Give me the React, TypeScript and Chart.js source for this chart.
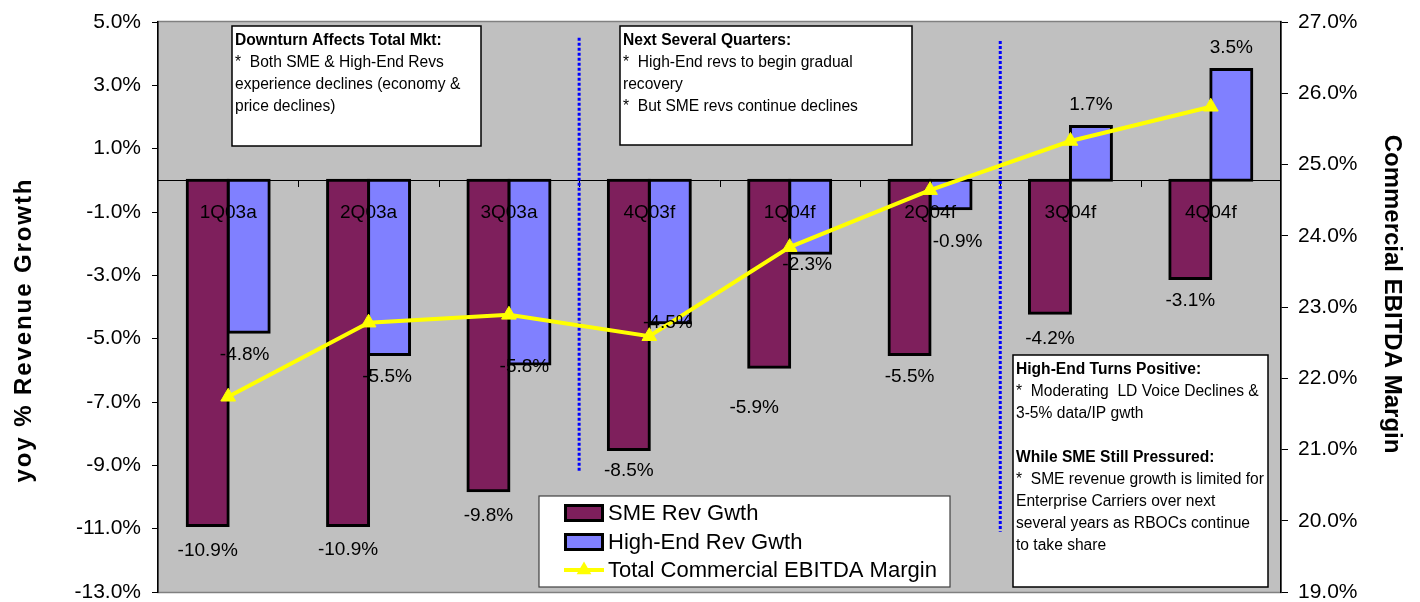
import React, { useEffect, useRef } from 'react';
import { Chart, registerables } from 'chart.js';

Chart.register(...registerables);

const FONT = '"Liberation Sans", Arial, sans-serif';

const categories = ['1Q03a', '2Q03a', '3Q03a', '4Q03f', '1Q04f', '2Q04f', '3Q04f', '4Q04f'];
const smeRevGrowth = [-10.9, -10.9, -9.8, -8.5, -5.9, -5.5, -4.2, -3.1];
const highEndRevGrowth = [-4.8, -5.5, -5.8, -4.5, -2.3, -0.9, 1.7, 3.5];
const ebitdaMargin = [21.74, 22.78, 22.89, 22.59, 23.84, 24.64, 25.33, 25.81];

const leftTickValues = [-13, -11, -9, -7, -5, -3, -1, 1, 3, 5];
const rightTickValues = [19, 20, 21, 22, 23, 24, 25, 26, 27];

const seriesNames = ['SME Rev Gwth', 'High-End Rev Gwth', 'Total Commercial EBITDA Margin'];
const leftTitle = 'yoy % Revenue Growth';
const rightTitle = 'Commercial EBITDA Margin';

// manual label nudges (px) as placed in the original
const smeLabelNudge = [[0, 2], [0, 1], [0, 2], [0, -2], [-15, 18], [0, -1], [0, 2], [0, -1]];
const heLabelNudge = [[-4, 0], [-2, 0], [-5, -19], [-2, -22], [-3, -10], [7, 11], [0, 0], [0, 0]];

// dotted dividers after category index, spanning left-axis values
const dividers = [
  { afterIndex: 2, top: 4.5, bottom: -9.2 },
  { afterIndex: 5, top: 4.4, bottom: -11.1 },
];

type NoteLine = { t: string; b?: boolean };
const noteDownturn: NoteLine[] = [
  { t: 'Downturn Affects Total Mkt:', b: true },
  { t: '*  Both SME & High-End Revs' },
  { t: 'experience declines (economy &' },
  { t: 'price declines)' },
];
const noteNext: NoteLine[] = [
  { t: 'Next Several Quarters:', b: true },
  { t: '*  High-End revs to begin gradual' },
  { t: 'recovery' },
  { t: '*  But SME revs continue declines' },
];
const noteHighEnd: NoteLine[] = [
  { t: 'High-End Turns Positive:', b: true },
  { t: '*  Moderating  LD Voice Declines &' },
  { t: '3-5% data/IP gwth' },
  { t: '' },
  { t: 'While SME Still Pressured:', b: true },
  { t: '*  SME revenue growth is limited for' },
  { t: 'Enterprise Carriers over next' },
  { t: 'several years as RBOCs continue' },
  { t: 'to take share' },
];

const noteBoxes = [
  { x: 232, y: 26, w: 249, h: 120, lines: noteDownturn },
  { x: 620, y: 26, w: 292, h: 119, lines: noteNext },
  { x: 1013, y: 355, w: 255, h: 232, lines: noteHighEnd },
];

const SME_COLOR = '#7E1F5C';
const HE_COLOR = '#8080FF';
const LINE_COLOR = '#FFFF00';

function drawSpacedText(ctx: CanvasRenderingContext2D, text: string, target: number) {
  const c: any = ctx;
  c.letterSpacing = '0px';
  const w = ctx.measureText(text).width;
  const sp = Math.max(0, (target - w) / (text.length - 1));
  c.letterSpacing = sp + 'px';
  ctx.fillText(text, sp / 2, 0);
  c.letterSpacing = '0px';
}

const decor = {
  id: 'decor',
  beforeDraw(chart: any) {
    const { ctx, chartArea: a } = chart;
    ctx.save();
    ctx.fillStyle = '#C0C0C0';
    ctx.fillRect(a.left, a.top, a.right - a.left, a.bottom - a.top);
    ctx.strokeStyle = '#808080';
    ctx.lineWidth = 1.5;
    ctx.strokeRect(a.left, a.top - 0.5, a.right - a.left, a.bottom - a.top + 1);
    ctx.restore();
  },
  beforeDatasetsDraw(chart: any) {
    const { ctx, chartArea: a, scales } = chart;
    const x = scales.x;
    const y = scales.y;
    const y0 = y.getPixelForValue(0);
    const half = (x.getPixelForValue(1) - x.getPixelForValue(0)) / 2;
    ctx.save();
    ctx.strokeStyle = '#000';
    ctx.lineWidth = 1;
    ctx.beginPath();
    ctx.moveTo(a.left, Math.round(y0) + 0.5);
    ctx.lineTo(a.right, Math.round(y0) + 0.5);
    for (let i = 1; i < categories.length; i++) {
      const bx = Math.round(x.getPixelForValue(i) - half) + 0.5;
      ctx.moveTo(bx, Math.round(y0));
      ctx.lineTo(bx, Math.round(y0) + 7);
    }
    ctx.stroke();
    ctx.strokeStyle = '#0000FF';
    ctx.lineWidth = 3;
    ctx.setLineDash([3, 2]);
    for (const d of dividers) {
      const bx = x.getPixelForValue(d.afterIndex) + half;
      ctx.beginPath();
      ctx.moveTo(bx, y.getPixelForValue(d.top));
      ctx.lineTo(bx, y.getPixelForValue(d.bottom));
      ctx.stroke();
    }
    ctx.restore();
  },
  afterDatasetsDraw(chart: any) {
    const { ctx, scales } = chart;
    const x = scales.x;
    const y = scales.y;
    const y0 = y.getPixelForValue(0);
    ctx.save();
    ctx.fillStyle = '#000';
    ctx.textAlign = 'center';
    ctx.textBaseline = 'middle';
    ctx.font = `19px ${FONT}`;
    // category labels
    categories.forEach((c, i) => {
      ctx.fillText(c, x.getPixelForValue(i), y0 + 32);
    });
    // data labels
    const metaS = chart.getDatasetMeta(0);
    const metaH = chart.getDatasetMeta(1);
    const fmt = (v: number) => v.toFixed(1) + '%';
    metaS.data.forEach((el: any, i: number) => {
      const v = smeRevGrowth[i];
      const dy = v < 0 ? 23 : -22;
      ctx.fillText(fmt(v), el.x + smeLabelNudge[i][0], el.y + dy + smeLabelNudge[i][1]);
    });
    metaH.data.forEach((el: any, i: number) => {
      const v = highEndRevGrowth[i];
      const dy = v < 0 ? 22 : -22;
      ctx.fillText(fmt(v), el.x + heLabelNudge[i][0], el.y + dy + heLabelNudge[i][1]);
    });
    // note boxes
    ctx.textAlign = 'left';
    for (const nb of noteBoxes) {
      ctx.fillStyle = '#fff';
      ctx.fillRect(nb.x, nb.y, nb.w, nb.h);
      ctx.strokeStyle = '#000';
      ctx.lineWidth = 1.5;
      ctx.strokeRect(nb.x, nb.y, nb.w, nb.h);
      ctx.fillStyle = '#000';
      nb.lines.forEach((ln, i) => {
        ctx.font = `${ln.b ? 'bold ' : ''}15.6px ${FONT}`;
        ctx.fillText(ln.t, nb.x + 3, nb.y + 14.5 + i * 22);
      });
    }
    // legend
    const lg = { x: 539, y: 496, w: 411, h: 91 };
    ctx.fillStyle = '#fff';
    ctx.fillRect(lg.x, lg.y, lg.w, lg.h);
    ctx.strokeStyle = '#404040';
    ctx.lineWidth = 1.2;
    ctx.strokeRect(lg.x, lg.y, lg.w, lg.h);
    const rows = [513, 542, 570];
    const sw = 564;
    const fills = [SME_COLOR, HE_COLOR];
    for (let r = 0; r < 2; r++) {
      ctx.fillStyle = '#000';
      ctx.fillRect(sw, rows[r] - 9, 40, 18);
      ctx.fillStyle = fills[r];
      ctx.fillRect(sw + 3, rows[r] - 6, 34, 12);
    }
    ctx.strokeStyle = LINE_COLOR;
    ctx.lineWidth = 4;
    ctx.beginPath();
    ctx.moveTo(sw, rows[2]);
    ctx.lineTo(sw + 40, rows[2]);
    ctx.stroke();
    ctx.fillStyle = LINE_COLOR;
    const tr = 8.5;
    ctx.beginPath();
    ctx.moveTo(sw + 20, rows[2] - tr);
    ctx.lineTo(sw + 20 + tr * 0.866, rows[2] + tr / 2);
    ctx.lineTo(sw + 20 - tr * 0.866, rows[2] + tr / 2);
    ctx.closePath();
    ctx.fill();
    ctx.fillStyle = '#000';
    ctx.font = `22px ${FONT}`;
    seriesNames.forEach((n, i) => ctx.fillText(n, 608, rows[i] + 1));
    // axis titles
    ctx.font = `bold 24px ${FONT}`;
    ctx.textAlign = 'center';
    ctx.save();
    ctx.translate(24, 331);
    ctx.rotate(-Math.PI / 2);
    drawSpacedText(ctx, leftTitle, 303);
    ctx.restore();
    ctx.save();
    ctx.translate(1392, 294);
    ctx.rotate(Math.PI / 2);
    drawSpacedText(ctx, rightTitle, 318);
    ctx.restore();
    ctx.restore();
  },
};

export default function App() {
  const ref = useRef<HTMLCanvasElement>(null);
  useEffect(() => {
    const canvas = ref.current;
    if (!canvas) return;
    const chart = new Chart(canvas, {
      type: 'bar',
      data: {
        labels: categories,
        datasets: [
          {
            type: 'bar',
            label: seriesNames[0],
            data: smeRevGrowth,
            backgroundColor: SME_COLOR,
            borderColor: '#000',
            borderWidth: 3,
            borderSkipped: false,
            inflateAmount: 1.5,
            yAxisID: 'y',
            order: 1,
            barPercentage: 1,
            categoryPercentage: 0.584,
          },
          {
            type: 'bar',
            label: seriesNames[1],
            data: highEndRevGrowth,
            backgroundColor: HE_COLOR,
            borderColor: '#000',
            borderWidth: 3,
            borderSkipped: false,
            inflateAmount: 1.5,
            yAxisID: 'y',
            order: 2,
            barPercentage: 1,
            categoryPercentage: 0.584,
          },
          {
            type: 'line',
            label: seriesNames[2],
            data: ebitdaMargin,
            borderColor: LINE_COLOR,
            backgroundColor: LINE_COLOR,
            borderWidth: 4,
            pointStyle: 'triangle',
            pointRadius: 8.5,
            pointBackgroundColor: LINE_COLOR,
            pointBorderColor: LINE_COLOR,
            pointBorderWidth: 1,
            tension: 0,
            fill: false,
            yAxisID: 'y1',
            order: 0,
          } as any,
        ],
      },
      options: {
        responsive: false,
        animation: false,
        layout: { padding: { left: 0, right: 0, top: 22, bottom: 10 } },
        plugins: {
          legend: { display: false },
          tooltip: { enabled: false },
          title: { display: false },
        },
        scales: {
          x: { type: 'category', display: false, offset: true },
          y: {
            type: 'linear',
            position: 'left',
            min: -13,
            max: 5,
            afterBuildTicks: (s: any) => {
              s.ticks = leftTickValues.map((v) => ({ value: v }));
            },
            afterFit: (s: any) => {
              s.width = 158;
              s.paddingTop = 0;
              s.paddingBottom = 0;
            },
            ticks: {
              callback: (v: any) => Number(v).toFixed(1) + '%',
              font: { family: FONT, size: 21, lineHeight: 1 },
              color: '#000',
              padding: 11,
            },
            grid: { drawOnChartArea: false, tickLength: 6, color: '#000', tickColor: '#000' },
            border: { display: true, color: '#000', width: 1.5 },
          },
          y1: {
            type: 'linear',
            position: 'right',
            min: 19,
            max: 27,
            afterBuildTicks: (s: any) => {
              s.ticks = rightTickValues.map((v) => ({ value: v }));
            },
            afterFit: (s: any) => {
              s.width = 139;
              s.paddingTop = 0;
              s.paddingBottom = 0;
            },
            ticks: {
              callback: (v: any) => Number(v).toFixed(1) + '%',
              font: { family: FONT, size: 21, lineHeight: 1 },
              color: '#000',
              padding: 10,
            },
            grid: { drawOnChartArea: false, tickLength: 7, color: '#000', tickColor: '#000' },
            border: { display: true, color: '#000', width: 1.5 },
          },
        },
      } as any,
      plugins: [decor],
    });
    return () => chart.destroy();
  }, []);
  return (
    <div style={{ position: 'fixed', left: 0, top: 0, width: 1420, height: 602, background: '#fff' }}>
      <canvas ref={ref} width={1420} height={602} style={{ display: 'block', width: 1420, height: 602 }} />
    </div>
  );
}
